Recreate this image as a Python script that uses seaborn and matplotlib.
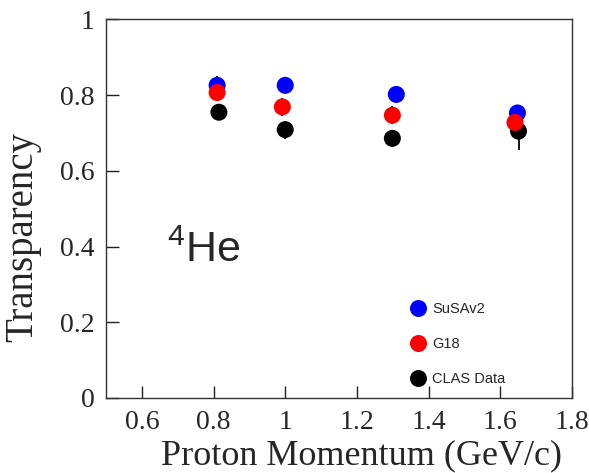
import matplotlib
matplotlib.use("Agg")
import matplotlib.pyplot as plt
import pandas as pd
import seaborn as sns

# values
momentum_susa = [0.81, 1.00, 1.31, 1.648]
transp_susa = [0.826, 0.826, 0.802, 0.753]
err_susa = [0.024, 0.012, 0.012, 0.012]

momentum_g18 = [0.81, 0.992, 1.299, 1.641]
transp_g18 = [0.807, 0.769, 0.747, 0.728]
err_g18 = [0.012, 0.024, 0.024, 0.012]

momentum_clas = [0.815, 1.00, 1.299, 1.651]
transp_clas = [0.755, 0.709, 0.686, 0.705]
err_clas = [0.012, 0.024, 0.023, 0.05]

labels = ["SuSAv2", "G18", "CLAS Data"]
colors = {"SuSAv2": "#0000ff", "G18": "#ff0000", "CLAS Data": "#000000"}

# drawing order: blue first, black, red on top
frames = [
    pd.DataFrame({"p": momentum_susa, "T": transp_susa, "err": err_susa, "model": "SuSAv2"}),
    pd.DataFrame({"p": momentum_clas, "T": transp_clas, "err": err_clas, "model": "CLAS Data"}),
    pd.DataFrame({"p": momentum_g18, "T": transp_g18, "err": err_g18, "model": "G18"}),
]
df = pd.concat(frames, ignore_index=True)

sns.set_style("ticks")
plt.rcParams["font.family"] = ["Liberation Serif", "DejaVu Serif"]
plt.rcParams["mathtext.fontset"] = "custom"
plt.rcParams["mathtext.rm"] = "Liberation Sans"
plt.rcParams["mathtext.it"] = "Liberation Sans"

fig = plt.figure(figsize=(5.89, 4.73), dpi=100)
ax = fig.add_axes([0.180, 0.1586, 0.791, 0.8002])

ax.errorbar(df["p"], df["T"], yerr=df["err"], fmt="none", ecolor="black",
            elinewidth=1.3, capsize=0, zorder=1)
sns.scatterplot(data=df, x="p", y="T", hue="model", hue_order=labels,
                palette=colors, s=150, linewidth=0, ax=ax, zorder=2)

ax.set_xlim(0.5, 1.8)
ax.set_ylim(0, 1)
ax.set_xticks([0.6, 0.8, 1.0, 1.2, 1.4, 1.6, 1.8])
ax.set_xticklabels(["0.6", "0.8", "1", "1.2", "1.4", "1.6", "1.8"])
ax.set_yticks([0, 0.2, 0.4, 0.6, 0.8, 1.0])
ax.set_yticklabels(["0", "0.2", "0.4", "0.6", "0.8", "1"])
ax.tick_params(direction="in", length=9, width=1, labelsize=20, color="#222222")
ax.tick_params(axis="x", pad=9)
ax.tick_params(axis="y", pad=8)
for sp in ax.spines.values():
    sp.set_color("#333333")
    sp.set_linewidth(1.0)

ax.set_xlabel("Proton Momentum (GeV/c)", fontsize=26)
ax.set_ylabel("Transparency", fontsize=28)
ax.xaxis.set_label_coords(0.549, -0.109)
ax.yaxis.set_label_coords(-0.138, 0.425)

ax.text(0.669, 0.36, r"$^{4}$He", fontsize=31, family="Liberation Sans",
        va="baseline", ha="left")

handles, labs = ax.get_legend_handles_labels()
ax.legend(handles, labs, loc="upper left", bbox_to_anchor=(0.655, 0.254),
          frameon=False, prop={"family": "Liberation Sans", "size": 10.5},
          handlelength=1.0, handletextpad=0.45, labelspacing=1.44,
          borderaxespad=0, borderpad=0)

fig.savefig("out.png", dpi=100)
